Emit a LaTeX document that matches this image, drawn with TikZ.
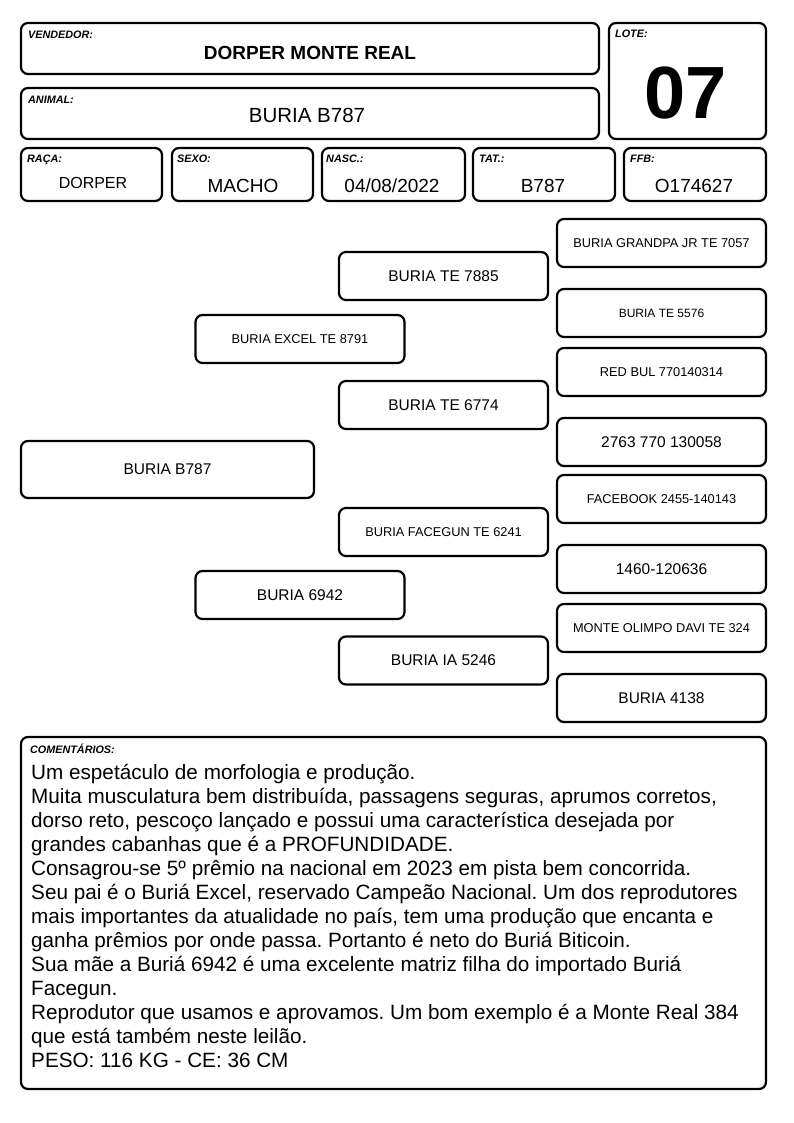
\documentclass[tikz,border=0pt]{standalone}
\usepackage{fontspec}
\setmainfont{Liberation Sans}
\usetikzlibrary{positioning}
\tikzset{fbox/.style={draw,line width=2.2pt,rounded corners=7pt,inner sep=0pt}}
\tikzset{tag/.style={anchor=north west,inner sep=0pt,font=\fontsize{10.8}{12}\selectfont\bfseries\itshape}}
\tikzset{ped/.style={fbox,minimum width=209pt,minimum height=48pt}}
\tikzset{pbig/.style={font=\fontsize{15.5}{18}\selectfont}}
\tikzset{psmall/.style={font=\fontsize{12.8}{15}\selectfont}}
\frenchspacing

\begin{document}
\begin{tikzpicture}[x=1pt,y=-1pt]
\useasboundingbox (0,0) rectangle (794,1123);

% header
\node[fbox,minimum width=578pt,minimum height=51pt] (vend) at (310,48.5) {};
\node[tag] (vendtag) at (28,30.5) {VENDEDOR:};
\node[font=\fontsize{19}{22}\selectfont\bfseries] (vendname) at (310,53) {DORPER MONTE REAL};

\node[fbox,minimum width=578pt,minimum height=51pt] (anim) at (310,113.5) {};
\node[tag] (animtag) at (28,95.5) {ANIMAL:};
\node[font=\fontsize{20.5}{24}\selectfont] (animname) at (307,115.5) {BURIA B787};

\node[fbox,minimum width=157pt,minimum height=116pt] (lote) at (687.5,81) {};
\node[tag] (lotetag) at (615,29.5) {LOTE:};
\node[font=\fontsize{74}{80}\selectfont\bfseries] (lotenum) at (686,93) {07};

% second row
\node[fbox,minimum width=141pt,minimum height=53pt] (raca) at (91.5,174.5) {};
\node[tag] (racatag) at (27,154.5) {RAÇA:};
\node[font=\fontsize{16}{19}\selectfont] (racaval) at (93,182.5) {DORPER};

\node[fbox,minimum width=141pt,minimum height=53pt] (sexo) at (242.5,174.5) {};
\node[tag] (sexotag) at (177,154.5) {SEXO:};
\node[font=\fontsize{19}{22}\selectfont] (sexoval) at (243,186) {MACHO};

\node[fbox,minimum width=143pt,minimum height=53pt] (nasc) at (393.5,174.5) {};
\node[tag] (nasctag) at (326,154.5) {NASC.:};
\node[font=\fontsize{19}{22}\selectfont] (nascval) at (392,186) {04/08/2022};

\node[fbox,minimum width=142pt,minimum height=53pt] (tat) at (544,174.5) {};
\node[tag] (tattag) at (479,154.5) {TAT.:};
\node[font=\fontsize{19}{22}\selectfont] (tatval) at (543,186) {B787};

\node[fbox,minimum width=142pt,minimum height=53pt] (ffb) at (695,174.5) {};
\node[tag] (ffbtag) at (630,154.5) {FFB:};
\node[font=\fontsize{19}{22}\selectfont] (ffbval) at (694,186) {O174627};

% pedigree
\node[fbox,pbig,minimum width=293pt,minimum height=57pt] (animal) at (167.5,469.5) {BURIA B787};

\node[ped,psmall] (pai) at (300,339) {BURIA EXCEL TE 8791};
\node[ped,pbig] (mae) at (300,595) {BURIA 6942};

\node[ped,pbig] (avo1) at (443.5,276) {BURIA TE 7885};
\node[ped,pbig] (avo2) at (443.5,405) {BURIA TE 6774};
\node[ped,psmall] (avo3) at (443.5,532) {BURIA FACEGUN TE 6241};
\node[ped,pbig] (avo4) at (443.5,660.5) {BURIA IA 5246};

\node[ped,psmall] (bis1) at (661.5,243) {BURIA GRANDPA JR TE 7057};
\node[ped,font=\fontsize{12}{14}\selectfont] (bis2) at (661.5,313) {BURIA TE 5576};
\node[ped,psmall] (bis3) at (661.5,372) {RED BUL 770140314};
\node[ped,pbig] (bis4) at (661.5,442) {2763 770 130058};
\node[ped,psmall] (bis5) at (661.5,499) {FACEBOOK 2455-140143};
\node[ped,pbig] (bis6) at (661.5,569) {1460-120636};
\node[ped,psmall] (bis7) at (661.5,628) {MONTE OLIMPO DAVI TE 324};
\node[ped,pbig] (bis8) at (661.5,698) {BURIA 4138};

% comments
\node[fbox,minimum width=745pt,minimum height=352pt] (coment) at (393.5,913) {};
\node[tag,font=\fontsize{10.8}{12}\selectfont\bfseries\itshape] (comenttag) at (30,743.5) {COMENTÁRIOS:};
\node[anchor=north west,inner sep=0pt,align=left,font=\fontsize{20.7}{24}\selectfont] (comenttext) at (31,764) {%
Um espetáculo de morfologia e produção.\\
Muita musculatura bem distribuída, passagens seguras, aprumos corretos,\\
dorso reto, pescoço lançado e possui uma característica desejada por\\
grandes cabanhas que é a PROFUNDIDADE.\\
Consagrou-se 5º prêmio na nacional em 2023 em pista bem concorrida.\\
Seu pai é o Buriá Excel, reservado Campeão Nacional. Um dos reprodutores\\
mais importantes da atualidade no país, tem uma produção que encanta e\\
ganha prêmios por onde passa. Portanto é neto do Buriá Biticoin.\\
Sua mãe a Buriá 6942 é uma excelente matriz filha do importado Buriá\\
Facegun.\\
Reprodutor que usamos e aprovamos. Um bom exemplo é a Monte Real 384\\
que está também neste leilão.\\
PESO: 116 KG - CE: 36 CM};

\end{tikzpicture}
\end{document}
